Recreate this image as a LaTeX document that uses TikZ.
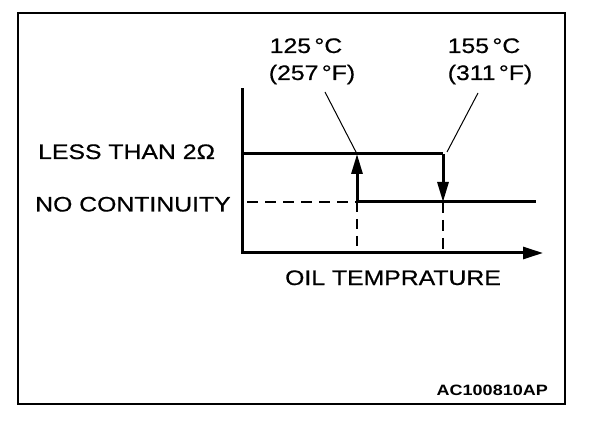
\documentclass[tikz,border=0pt]{standalone}
\usepackage{fontspec}
\setmainfont{Liberation Sans}[FakeStretch=1.18,FakeBold=0.6]
\newfontfamily\codefont{Liberation Sans}[FakeStretch=1.2]
\usetikzlibrary{arrows.meta}
\newcommand{\degsp}{\hspace{0.16em}}
\begin{document}
\begin{tikzpicture}[x=1pt,y=-1pt,
  lbl/.style={inner sep=0pt,font=\fontsize{21}{25}\selectfont},
  code/.style={inner sep=0pt,font=\codefont\bfseries\fontsize{15}{18}\selectfont},
  axis/.style={line width=3pt},
  curve/.style={line width=3pt},
  leader/.style={line width=1pt},
  dashline/.style={line width=2.5pt,dash pattern=on 11pt off 7pt},
  thindash/.style={line width=1.5pt,dash pattern=on 10pt off 7pt},
  tip/.style={-{Triangle[length=20pt,width=11pt]}}
]
\useasboundingbox (0,0) rectangle (608,422);
\draw[line width=2pt] (18,13) rectangle (565,404);
% axes
\coordinate (o) at (242,253);
\coordinate (ytop) at (242,90);
\coordinate (xend) at (543,253);
\draw[axis,line cap=rect] (ytop) -- (o);
\draw[axis,-{Triangle[length=20pt,width=12pt]}] (o) -- (xend);
% levels
\coordinate (hiL) at (242,154);
\coordinate (hiR) at (443,154);
\coordinate (loR) at (443,202);
\coordinate (upB) at (357,202);
\coordinate (upT) at (357,154);
\coordinate (loEnd) at (536,202);
\coordinate (loL) at (247,202);
\coordinate (d1) at (357,253);
\coordinate (d2) at (443,253);
\draw[curve] (hiL) -- (hiR);
\draw[curve,tip] (hiR) -- (loR);
\draw[curve,tip] (upB) -- (upT);
\draw[curve] (upB) -- (loEnd);
\draw[dashline] (loL) -- (upB);
\draw[thindash] (upB) -- (d1);
\draw[dashline] (loR) -- (d2);
% labels
\node[lbl,anchor=base] (t1) at (306,53) {125\degsp°C};
\node[lbl,anchor=base] (f1) at (312,80) {(257\degsp°F)};
\node[lbl,anchor=base] (t2) at (484,53) {155\degsp°C};
\node[lbl,anchor=base] (f2) at (490,80) {(311\degsp°F)};
\node[lbl,anchor=base west] (less) at (38,159) {LESS THAN 2Ω};
\node[lbl,anchor=base west] (noc) at (35,211.5) {NO CONTINUITY};
\node[lbl,anchor=base] (oil) at (393,285) {OIL TEMPRATURE};
\node[code,anchor=base east] (id) at (548,395.5) {AC100810AP};
% leaders
\coordinate (l1a) at (325,92);
\coordinate (l2a) at (478,93);
\draw[leader] (l1a) -- (upT);
\draw[leader] (l2a) -- (447,152);
\end{tikzpicture}
\end{document}
